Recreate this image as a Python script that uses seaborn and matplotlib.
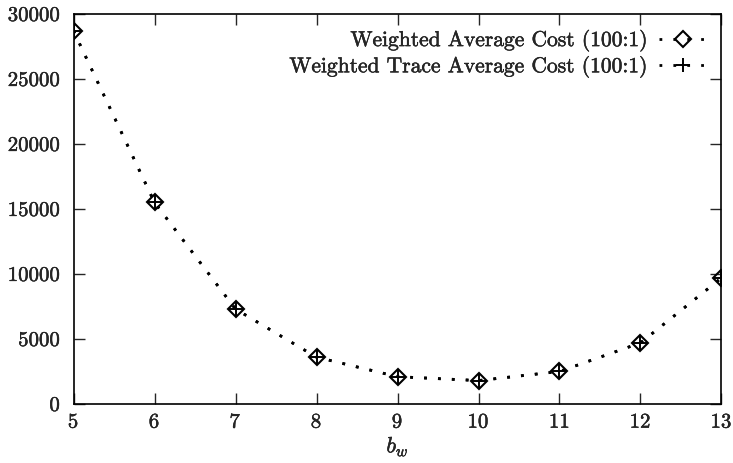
import numpy as np
import matplotlib.pyplot as plt
import matplotlib.patheffects as pe
import seaborn as sns

# b_w values and costs
bw = [5, 6, 7, 8, 9, 10, 11, 12, 13]
weighted_avg_cost = [28700, 15500, 7300, 3600, 2100, 1800, 2500, 4700, 9700]
weighted_trace_avg_cost = [28700, 15500, 7300, 3600, 2100, 1800, 2500, 4700, 9700]

sns.set_style("ticks")
plt.rcParams['font.family'] = ['cmr10', 'DejaVu Serif']
plt.rcParams['mathtext.fontset'] = 'cm'
plt.rcParams['axes.formatter.use_mathtext'] = True

fig = plt.figure(figsize=(7.33, 4.64), dpi=100)
ax = fig.add_axes([0.1003, 0.1272, 0.8840, 0.8405])

dots = (0, (1, 4))
sns.lineplot(x=bw, y=weighted_avg_cost, ax=ax, color='black', marker='D', markersize=8.5,
             markerfacecolor='none', markeredgecolor='black', markeredgewidth=1.5,
             linestyle=dots, linewidth=2, label='Weighted Average Cost (100:1)')
sns.lineplot(x=bw, y=weighted_trace_avg_cost, ax=ax, color='black', marker='+', markersize=10,
             markeredgecolor='black', markeredgewidth=1.4, linestyle=dots, linewidth=2,
             label='Weighted Trace Average Cost (100:1)')

ax.set_xlim(5, 13)
ax.set_ylim(0, 30000)
ax.set_xticks(range(5, 14))
ax.set_yticks(range(0, 30001, 5000))
ax.tick_params(direction='in', length=8, width=1, top=True, right=True, labelsize=15)
ax.tick_params(axis='x', pad=7)
ax.tick_params(axis='y', pad=9)
for s in ax.spines.values():
    s.set_linewidth(1.2)
    s.set_color('black')
ax.set_xlabel('$b_w$', fontsize=16, labelpad=2)

leg = ax.legend(loc='upper right', frameon=False, markerfirst=False, fontsize=15.5,
                handlelength=2.2, handletextpad=0.5, labelspacing=0.15, borderaxespad=0.3)

# scanned print looks a little heavier than plain cmr10
stroke = [pe.withStroke(linewidth=0.3, foreground='black')]
for t in ax.get_xticklabels() + ax.get_yticklabels() + leg.get_texts():
    t.set_path_effects(stroke)
ax.xaxis.label.set_path_effects(stroke)

fig.savefig('out.png', dpi=100)
